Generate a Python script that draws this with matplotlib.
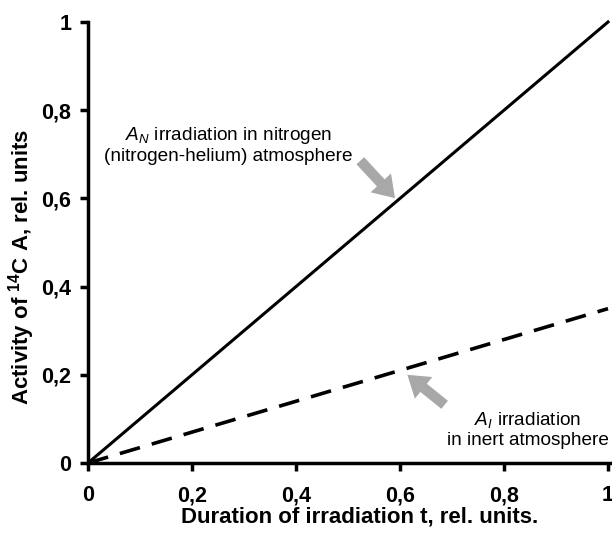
import numpy as np
import matplotlib.pyplot as plt

plt.rcParams['font.family'] = ['Liberation Sans', 'DejaVu Sans']
plt.rcParams['mathtext.fontset'] = 'custom'
plt.rcParams['mathtext.rm'] = 'Liberation Sans'
plt.rcParams['mathtext.it'] = 'Liberation Sans:italic'
plt.rcParams['mathtext.bf'] = 'Liberation Sans:bold'

# irradiation time and activities (relative units)
t = [0.0, 1.0]
a_nitrogen = [0.0, 1.0]
a_inert = [0.0, 0.35]

xticks = [0, 0.2, 0.4, 0.6, 0.8, 1]
yticks = [0, 0.2, 0.4, 0.6, 0.8, 1]
tick_labels = ['0', '0,2', '0,4', '0,6', '0,8', '1']

fig = plt.figure(figsize=(6.12, 5.38), dpi=100)
ax = fig.add_axes([88/612, 75/538, 524/612, 441/538])

ax.plot(t, a_nitrogen, color='black', lw=2.2, clip_on=False)
ax.plot(t, a_inert, color='black', lw=2.6, dashes=(5.8, 3.4), clip_on=False)

ax.set_xlim(0, 524/520)
ax.set_ylim(0, 1)
ax.spines['top'].set_visible(False)
ax.spines['right'].set_visible(False)
for s in ['left', 'bottom']:
    ax.spines[s].set_linewidth(2.5)

ax.set_xticks(xticks)
ax.set_xticklabels(tick_labels, fontweight='bold', fontsize=15.5)
ax.set_yticks(yticks)
ax.set_yticklabels(tick_labels, fontweight='bold', fontsize=15.5)
ax.tick_params(axis='x', direction='out', length=6, width=2.5, pad=10)
ax.tick_params(axis='y', direction='out', length=6, width=2.5, pad=6)

ax.set_xlabel('Duration of irradiation t, rel. units.', fontsize=16, fontweight='bold')
ax.set_ylabel(r'Activity of $^{\mathbf{14}}$C A, rel. units', fontsize=16, fontweight='bold')
ax.xaxis.set_label_coords(0.519, -0.098)
ax.yaxis.set_label_coords(-0.097, 0.444)

# captions with grey block arrows
arrow_style = dict(arrowstyle='simple,head_width=2.0,head_length=1.5,tail_width=0.75',
                   fc='#a8a8a8', ec='none')

ax.text(0.27, 0.721, '$A_N$ irradiation in nitrogen\n(nitrogen-helium) atmosphere',
        ha='center', va='center', fontsize=13.7, linespacing=1.2)
ax.annotate('', xy=(0.594, 0.596), xytext=(0.52, 0.69), arrowprops=arrow_style)

ax.text(0.846, 0.077, '$A_I$ irradiation\nin inert atmosphere',
        ha='center', va='center', fontsize=13.7, linespacing=1.15)
ax.annotate('', xy=(0.61, 0.204), xytext=(0.69, 0.128), arrowprops=arrow_style)

fig.savefig('out.png', dpi=100)
